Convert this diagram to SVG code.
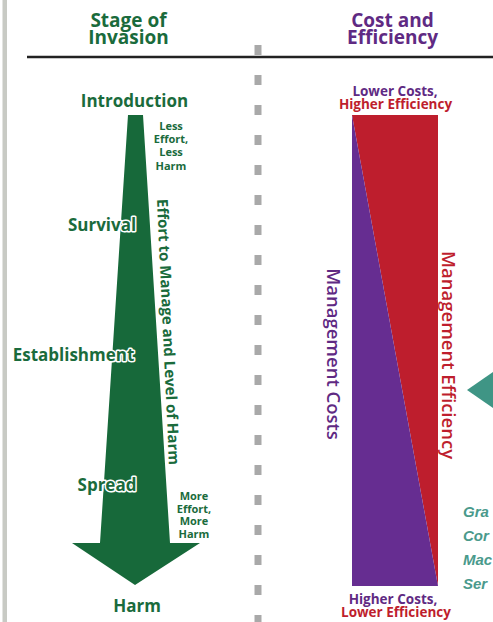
<svg xmlns="http://www.w3.org/2000/svg" width="493" height="622" viewBox="0 0 493 622">
<style>
.h{font-family:"Open Sans","Liberation Sans",sans-serif;font-weight:700;font-size:19px;text-anchor:middle}
.g{fill:#1a6b3c}
.p{fill:#5f2a83}
.r{fill:#be1e2d}
.st{font-family:"Open Sans","Liberation Sans",sans-serif;font-weight:700;font-size:17px;text-anchor:middle;fill:#1a6b3c}
.ol{stroke:#ffffff;stroke-width:3;paint-order:stroke;stroke-linejoin:round}
.sm{font-family:"Open Sans","Liberation Sans",sans-serif;font-weight:700;font-size:11px;text-anchor:middle;fill:#1a6b3c}
.cl{font-family:"Open Sans","Liberation Sans",sans-serif;font-weight:700;font-size:13.5px;text-anchor:middle}
.vt{font-family:"Open Sans","Liberation Sans",sans-serif;font-weight:600;font-size:18.5px;text-anchor:middle}
.tl{font-family:"Liberation Sans",Arial,sans-serif;font-style:italic;font-weight:700;font-size:15px;fill:#4a9a8c}
</style>
<rect x="0" y="0" width="493" height="622" fill="#ffffff"/>
<rect x="2.5" y="0" width="4.5" height="622" fill="#c8cac4"/>
<g id="header">
  <line x1="27" y1="57" x2="493" y2="57" stroke="#222222" stroke-width="2.5"/>
  <text class="h g" x="128.5" y="27">Stage of</text>
  <text class="h g" x="128.5" y="44">Invasion</text>
  <text class="h p" x="392.5" y="27">Cost and</text>
  <text class="h p" x="392.5" y="44">Efficiency</text>
</g>
<g id="divider">
  <line x1="258" y1="45" x2="258" y2="622" stroke="#a9a9a9" stroke-width="7" stroke-dasharray="10 20"/>
</g>
<g id="invasion-arrow">
  <polygon points="128,115 143,115 170,543 200,543 135,585 72,543 100,543" fill="#17693a"/>
  <text class="st" x="134.5" y="107">Introduction</text>
  <text class="st ol" x="102" y="231">Survival</text>
  <text class="st ol" x="73.5" y="361">Establishment</text>
  <text class="st ol" x="107" y="491">Spread</text>
  <text class="st" x="137" y="612">Harm</text>
  <text class="sm" x="171"><tspan x="171" y="130">Less</tspan><tspan x="171" y="143">Effort,</tspan><tspan x="171" y="156">Less</tspan><tspan x="171" y="170">Harm</tspan></text>
  <text class="sm" x="194"><tspan x="194" y="500">More</tspan><tspan x="194" y="512.5">Effort,</tspan><tspan x="194" y="525">More</tspan><tspan x="194" y="538">Harm</tspan></text>
  <text class="sm" style="font-size:15px" transform="translate(168,332) rotate(87.4)" x="0" y="5">Effort to Manage and Level of Harm</text>
</g>
<g id="cost-efficiency">
  <polygon points="352,115 438,115 438,586" fill="#be1e2d"/>
  <polygon points="352,115 438,586 352,586" fill="#662d91"/>
  <text class="cl p" x="395" y="96">Lower Costs,</text>
  <text class="cl r" x="395.5" y="108.5">Higher Efficiency</text>
  <text class="cl p" x="393" y="604">Higher Costs,</text>
  <text class="cl r" x="396" y="617">Lower Efficiency</text>
  <text class="vt p" transform="translate(333,354) rotate(90)" x="0" y="6.5">Management Costs</text>
  <text class="vt r" transform="translate(448,355) rotate(90)" x="0" y="6.5">Management Efficiency</text>
</g>
<g id="pointer">
  <polygon points="467,390 493,372 493,408" fill="#3f9585"/>
</g>
<g id="side-note">
  <text class="tl" x="463" y="517">Gra</text>
  <text class="tl" x="463" y="541">Cor</text>
  <text class="tl" x="463" y="565">Mac</text>
  <text class="tl" x="463" y="589">Ser</text>
</g>
</svg>
